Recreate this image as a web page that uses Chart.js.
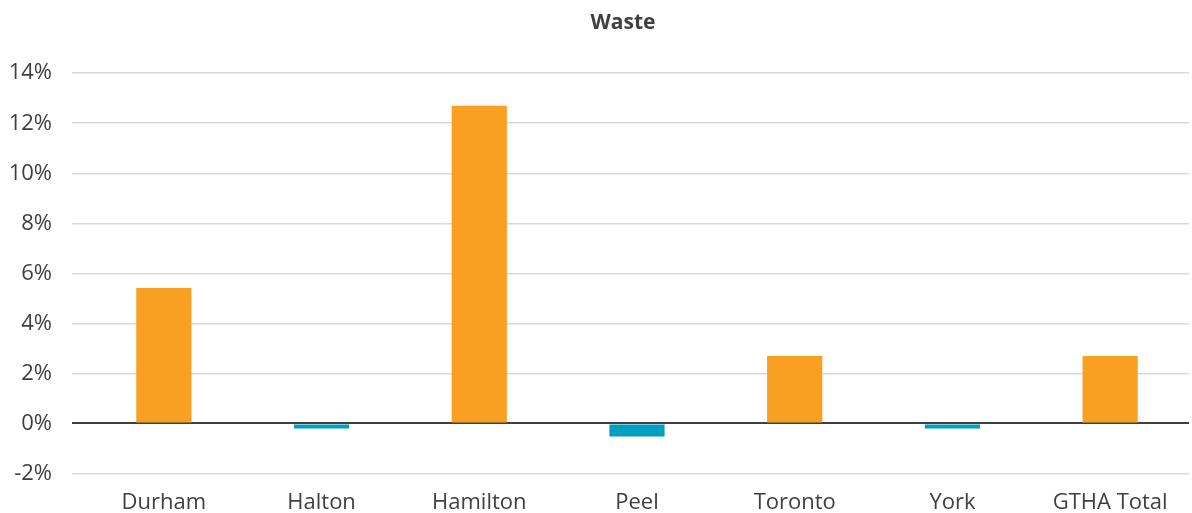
<!DOCTYPE html>
<html>
<head>
<meta charset="utf-8">
<script src="https://cdn.jsdelivr.net/npm/chart.js@4.4.0/dist/chart.umd.min.js"></script>
<style>
html,body{margin:0;padding:0;background:#fff;}
#wrap{width:1192px;height:513px;}
</style>
</head>
<body>
<div id="wrap"><canvas id="c" width="1192" height="513"></canvas></div>
<script>
const categories = ['Durham', 'Halton', 'Hamilton', 'Peel', 'Toronto', 'York', 'GTHA Total'];
const wasteChange = [5.41, -0.2, 12.7, -0.52, 2.7, -0.2, 2.7];
const yTicks = [-2, 0, 2, 4, 6, 8, 10, 12, 14];
const titleText = 'Waste';

const POS = '#F99F22', NEG = '#009FC1';
const FONT = "'Open Sans', sans-serif";
const TEXT = '#404040';

const titleShift = {
  id: 'titleShift',
  afterLayout(chart) {
    const t = chart.titleBlock;
    if (t) { t.left = 54; t.right = 1192; t.width = 1192 - 54; }
  }
};

new Chart(document.getElementById('c'), {
  type: 'bar',
  data: {
    labels: categories,
    datasets: [{
      data: wasteChange,
      backgroundColor: wasteChange.map(v => v >= 0 ? POS : NEG),
      borderWidth: 0,
      categoryPercentage: 1,
      barPercentage: 0.35
    }]
  },
  options: {
    responsive: false,
    animation: false,
    layout: { padding: { left: 0, right: 3, top: 0, bottom: 0 } },
    plugins: {
      legend: { display: false },
      tooltip: { enabled: false },
      title: {
        display: true,
        text: titleText,
        color: TEXT,
        font: { family: FONT, size: 21, weight: 'bold', lineHeight: 1.2 },
        padding: { top: 10, bottom: 38 }
      }
    },
    scales: {
      x: {
        grid: { display: false, drawTicks: false },
        border: { display: false },
        ticks: { color: TEXT, font: { family: FONT, size: 22 }, padding: 16 },
        afterFit(s) { s.height = 39.5; }
      },
      y: {
        min: -2, max: 14,
        afterBuildTicks(s) { s.ticks = yTicks.map(v => ({ value: v })); },
        grid: {
          color: c => c.tick && c.tick.value === 0 ? '#404040' : '#D9D9D9',
          lineWidth: c => c.tick && c.tick.value === 0 ? 2 : 1.5,
          drawTicks: true,
          tickLength: 13,
          tickColor: c => c.tick && c.tick.value === 0 ? '#404040' : '#D9D9D9'
        },
        border: { display: false },
        ticks: {
          color: TEXT,
          font: { family: FONT, size: 22 },
          padding: 20,
          callback: v => v + '%'
        },
        afterFit(s) { s.width = 85; }
      }
    }
  },
  plugins: [titleShift]
});
</script>
</body>
</html>
